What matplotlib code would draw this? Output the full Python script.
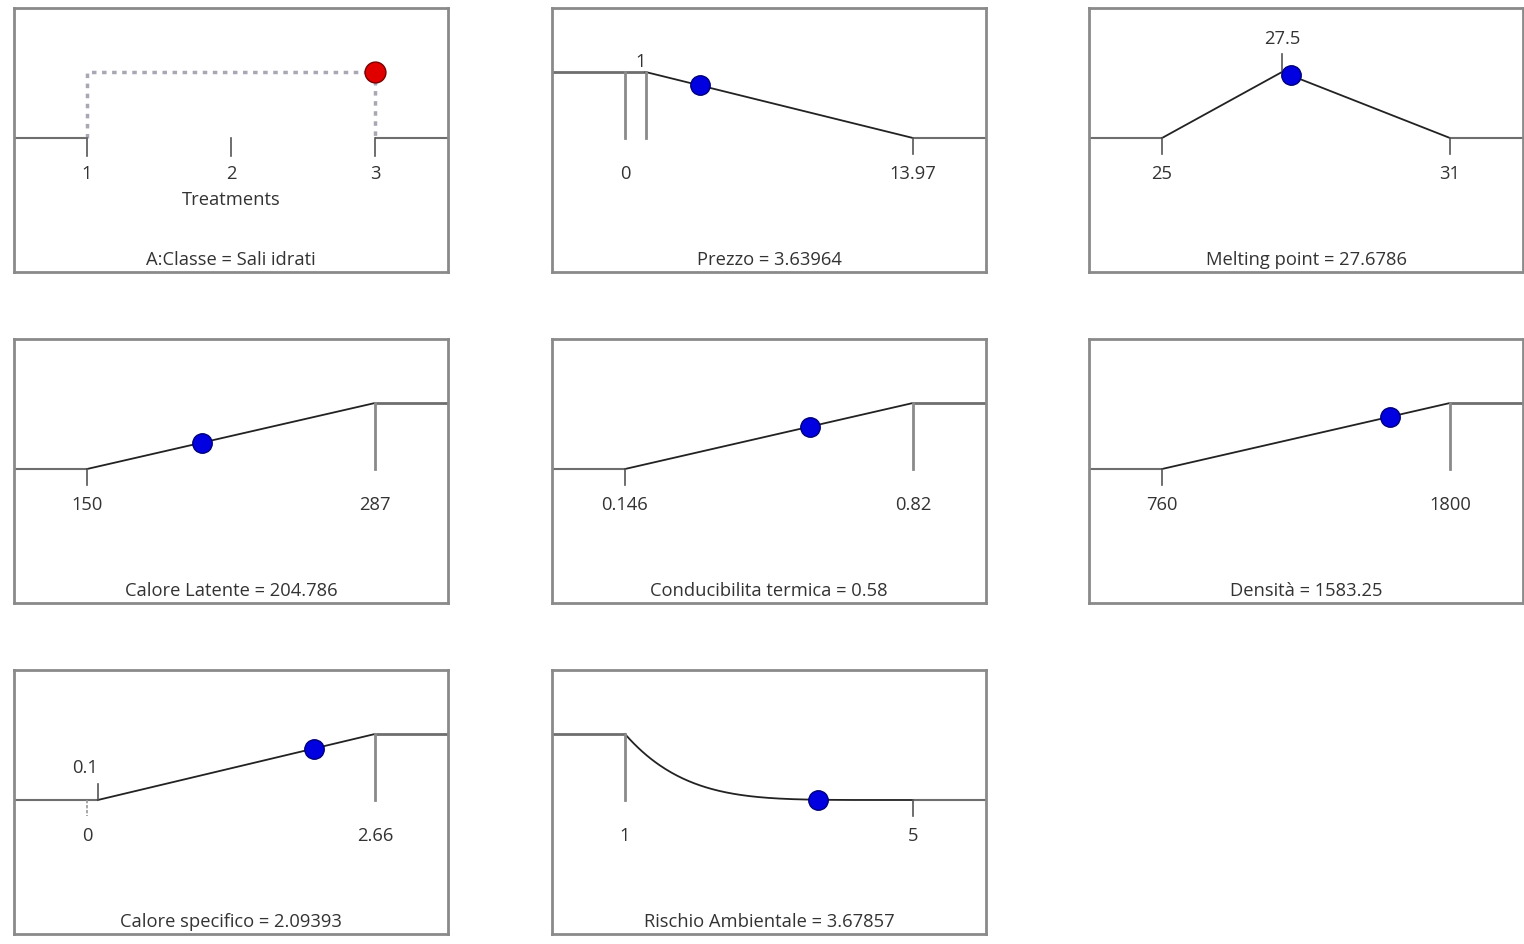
import numpy as np
import matplotlib
matplotlib.use("Agg")
import matplotlib.pyplot as plt

plt.rcParams['font.family'] = ['Open Sans', 'DejaVu Sans']

# ---- data ----
names = ["A:Classe", "Prezzo", "Melting point", "Calore Latente",
         "Conducibilita termica", "Densità", "Calore specifico", "Rischio Ambientale"]
value_labels = ["Sali idrati", "3.63964", "27.6786", "204.786",
                "0.58", "1583.25", "2.09393", "3.67857"]
values = [3, 3.63964, 27.6786, 204.786, 0.58, 1583.25, 2.09393, 3.67857]
lows = [1, 0, 25, 150, 0.146, 760, 0, 1]
highs = [3, 13.97, 31, 287, 0.82, 1800, 2.66, 5]
goals = ["factor", "minimize", "target", "maximize", "maximize", "maximize", "maximize", "minimize"]
goal_points = [None, 1, 27.5, 150, 0.146, 760, 0.1, 1]
weights = [1, 1, 1, 1, 1, 1, 1, 5]
low_labels = ["1", "0", "25", "150", "0.146", "760", "0", "1"]
high_labels = ["3", "13.97", "31", "287", "0.82", "1800", "2.66", "5"]
goal_labels = [None, "1", "27.5", None, None, None, "0.1", None]
treatments = [1, 2, 3]

W, H = 1524, 945
fig = plt.figure(figsize=(W / 100, H / 100), dpi=100)

col_left = [14, 552, 1089]
row_top = [9, 340, 671]
pw, ph = 434, 264

FRAME = '#8a8a8a'
FLAT = '#6e6e6e'
RAMP = '#222222'
VERT = '#8a8a8a'
TICK = '#555555'
TXT = '#333333'
FS = 13.2

m = 73 / 288.0
ylo, yhi = -134 / 66.0, 130 / 66.0
tick_len = 16 / 66.0
lab_y = -35 / 66.0


def desir(i, x):
    lo, hi, g, w = lows[i], highs[i], goal_points[i], weights[i]
    x = np.asarray(x, float)
    if goals[i] == "maximize":
        return np.clip((x - g) / (hi - g), 0, 1) ** w
    if goals[i] == "minimize":
        return np.clip((hi - x) / (hi - g), 0, 1) ** w
    if goals[i] == "target":
        return np.where(x <= g, np.clip((x - lo) / (g - lo), 0, 1),
                        np.clip((hi - x) / (hi - g), 0, 1)) ** w
    return np.zeros_like(x)


for i in range(8):
    r, c = divmod(i, 3)
    left = col_left[c] / W
    bottom = 1 - (row_top[r] + ph) / H
    ax = fig.add_axes([left, bottom, pw / W, ph / H])
    lo, hi = lows[i], highs[i]
    span = hi - lo
    x0, x1 = lo - m * span, hi + m * span
    ax.set_xlim(x0, x1)
    ax.set_ylim(ylo, yhi)
    ax.set_xticks([])
    ax.set_yticks([])
    for s in ax.spines.values():
        s.set_color(FRAME)
        s.set_linewidth(2)

    ax.text(0.5, 0.05, f"{names[i]} = {value_labels[i]}", transform=ax.transAxes,
            ha='center', va='center', fontsize=FS, color=TXT)

    if goals[i] == "factor":
        ax.plot([x0, lo], [0, 0], color=FLAT, lw=1.5, solid_capstyle='butt')
        ax.plot([hi, x1], [0, 0], color=FLAT, lw=1.5, solid_capstyle='butt')
        ax.plot([lo, lo, hi, hi], [0, 1, 1, 0], color='#a8a8b4', lw=2.5,
                linestyle=(0, (1.3, 1.6)), zorder=2)
        for t in treatments:
            ax.plot([t, t], [0, -tick_len * 1.1], color=TICK, lw=1.2)
            ax.text(t, lab_y, str(t), ha='center', va='center', fontsize=FS, color=TXT)
        ax.text(treatments[1], -61 / 66.0, "Treatments", ha='center', va='center',
                fontsize=FS, color=TXT)
        ax.plot([values[i]], [1], 'o', ms=15, mfc='#e00000', mec='#7a0000', mew=1, zorder=5)
        continue

    g = goal_points[i]
    if goals[i] == "minimize":
        xs = np.array([g, hi]) if weights[i] == 1 else np.linspace(g, hi, 200)
        ys = desir(i, xs)
        ax.plot([x0, g], [1, 1], color=FLAT, lw=2, solid_capstyle='butt')
        ax.plot(xs, ys, color=RAMP, lw=1.3)
        ax.plot([hi, x1], [0, 0], color=FLAT, lw=1.5, solid_capstyle='butt')
        ax.plot([g, g], [0, 1], color=VERT, lw=2)
        if lo != g:
            ax.plot([lo, lo], [0, 1], color=VERT, lw=2)
        ax.plot([hi, hi], [0, -tick_len], color=TICK, lw=1.2)
        ax.text(lo, lab_y, low_labels[i], ha='center', va='center', fontsize=FS, color=TXT)
        ax.text(hi, lab_y, high_labels[i], ha='center', va='center', fontsize=FS, color=TXT)
        if goal_labels[i] is not None and g != lo:
            ax.text(g, 1 + 11 / 66.0, goal_labels[i], ha='right', va='center',
                    fontsize=FS, color=TXT)
    elif goals[i] == "target":
        ax.plot([x0, lo], [0, 0], color=FLAT, lw=1.5, solid_capstyle='butt')
        ax.plot([lo, g, hi], [0, 1, 0], color=RAMP, lw=1.3)
        ax.plot([hi, x1], [0, 0], color=FLAT, lw=1.5, solid_capstyle='butt')
        ax.plot([lo, lo], [0, -tick_len], color=TICK, lw=1.2)
        ax.plot([hi, hi], [0, -tick_len], color=TICK, lw=1.2)
        ax.plot([g, g], [1, 1 + 18 / 66.0], color=TICK, lw=1.2)
        ax.text(lo, lab_y, low_labels[i], ha='center', va='center', fontsize=FS, color=TXT)
        ax.text(hi, lab_y, high_labels[i], ha='center', va='center', fontsize=FS, color=TXT)
        ax.text(g, 1 + 34 / 66.0, goal_labels[i], ha='center', va='center', fontsize=FS, color=TXT)
    else:  # maximize
        ax.plot([x0, g], [0, 0], color=FLAT, lw=1.5, solid_capstyle='butt')
        ax.plot([g, hi], [0, 1], color=RAMP, lw=1.3)
        ax.plot([hi, x1], [1, 1], color=FLAT, lw=2, solid_capstyle='butt')
        ax.plot([hi, hi], [0, 1], color=VERT, lw=2)
        ax.plot([lo, lo], [0, -tick_len], color=TICK if g == lo else '#999999', lw=1.2,
                linestyle='-' if g == lo else (0, (2, 1)))
        ax.text(lo, lab_y, low_labels[i], ha='center', va='center', fontsize=FS, color=TXT)
        ax.text(hi, lab_y, high_labels[i], ha='center', va='center', fontsize=FS, color=TXT)
        if goal_labels[i] is not None:
            ax.plot([g, g], [0, tick_len], color=TICK, lw=1.2)
            ax.text(g, 33 / 66.0, goal_labels[i], ha='right', va='center',
                    fontsize=FS, color=TXT)

    d = float(desir(i, [values[i]])[0])
    ax.plot([values[i]], [d], 'o', ms=14, mfc='#0000e0', mec='#00007a', mew=1, zorder=5)

fig.savefig("out.png", dpi=100)
